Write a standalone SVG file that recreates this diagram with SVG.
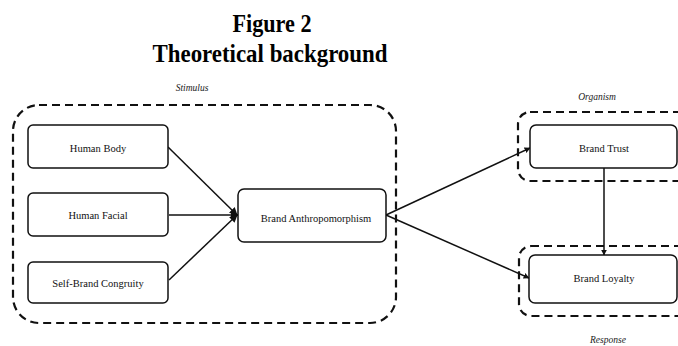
<svg xmlns="http://www.w3.org/2000/svg" width="678" height="346" viewBox="0 0 678 346">
<defs>
<style>
.title{font-family:"Liberation Serif",serif;font-weight:bold;font-size:25px;fill:#000;text-anchor:middle}
.lbl{font-family:"Liberation Serif",serif;font-size:10.5px;fill:#111;text-anchor:middle}
.grp{font-family:"Liberation Serif",serif;font-style:italic;font-size:9.5px;fill:#222;text-anchor:middle}
.node{fill:#fff;stroke:#111;stroke-width:1.5}
.dash{fill:none;stroke:#111;stroke-width:2.2;stroke-dasharray:8 5}
.edge{fill:none;stroke:#111;stroke-width:1.5;marker-end:url(#ah)}
</style>
<marker id="ah" viewBox="0 0 10 10" refX="9" refY="5" markerWidth="6" markerHeight="6" markerUnits="userSpaceOnUse" orient="auto"><path d="M0,0 L10,5 L0,10 Z" fill="#111"/></marker>
<marker id="ah2" viewBox="0 0 10 10" refX="9" refY="5" markerWidth="8" markerHeight="8" markerUnits="userSpaceOnUse" orient="auto"><path d="M0,0 L10,5 L0,10 Z" fill="#111"/></marker>
</defs>
<rect width="678" height="346" fill="#fff"/>
<text class="title" x="272" y="32" textLength="79" lengthAdjust="spacingAndGlyphs">Figure 2</text>
<text class="title" x="270" y="62" textLength="235" lengthAdjust="spacingAndGlyphs">Theoretical background</text>
<g id="groups">
<rect class="dash" x="13" y="105" width="383" height="218" rx="26"/>
<rect class="dash" x="518" y="112" width="175" height="69" rx="12"/>
<rect class="dash" x="519" y="246" width="175" height="70" rx="12"/>
<text class="grp" x="192" y="91">Stimulus</text>
<text class="grp" x="597" y="100">Organism</text>
<text class="grp" x="608" y="343">Response</text>
</g>
<g id="connectors">
<line class="edge" x1="168" y1="147" x2="237" y2="215" style="marker-end:url(#ah2)"/>
<line class="edge" x1="169" y1="215" x2="238" y2="215" style="marker-end:url(#ah2)"/>
<line class="edge" x1="169" y1="280" x2="237" y2="215" style="marker-end:url(#ah2)"/>
<line class="edge" x1="386" y1="215" x2="530" y2="148"/>
<line class="edge" x1="386" y1="215" x2="529" y2="278"/>
<line class="edge" x1="604" y1="168" x2="604" y2="255"/>
</g>
<g id="human-body"><rect class="node" x="28" y="125" width="140" height="43" rx="5"/><text class="lbl" x="98" y="152">Human Body</text></g>
<g id="human-facial"><rect class="node" x="28" y="193" width="140" height="43" rx="5"/><text class="lbl" x="98" y="219">Human Facial</text></g>
<g id="self-brand"><rect class="node" x="28" y="262" width="140" height="41" rx="5"/><text class="lbl" x="98" y="287">Self-Brand Congruity</text></g>
<g id="brand-anthro"><rect class="node" x="238" y="189" width="148" height="53" rx="6"/><text class="lbl" x="316" y="222">Brand Anthropomorphism</text></g>
<g id="brand-trust"><rect class="node" x="530" y="125" width="147" height="43" rx="6"/><text class="lbl" x="604" y="152">Brand Trust</text></g>
<g id="brand-loyalty"><rect class="node" x="529" y="255" width="148" height="48" rx="6"/><text class="lbl" x="604" y="282">Brand Loyalty</text></g>
</svg>
